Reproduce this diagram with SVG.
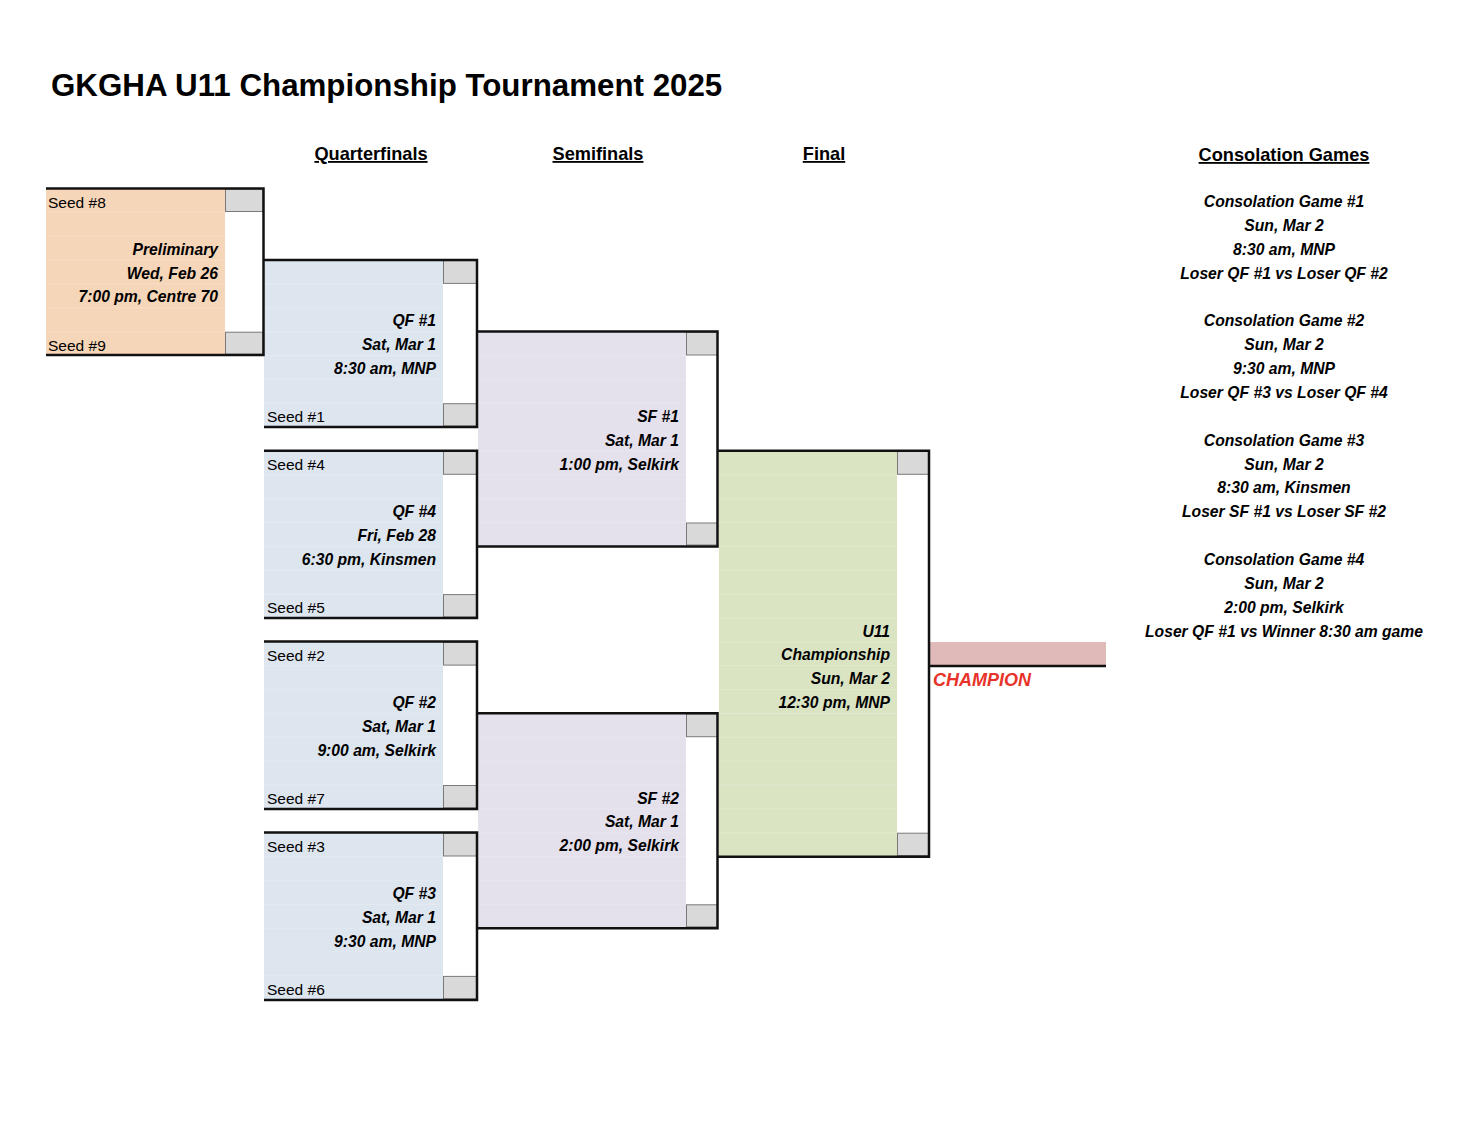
<svg xmlns="http://www.w3.org/2000/svg" width="1474" height="1138" viewBox="0 0 1474 1138">
<style>
text{font-family:"Liberation Sans",Arial,Helvetica,sans-serif;fill:#000}
.title{font-size:31.3px;font-weight:bold}
.hdr{font-size:18.2px;font-weight:bold;text-decoration:underline;text-anchor:middle}
.seed{font-size:15.5px}
.bi{font-size:15.7px;font-weight:bold;font-style:italic}
.r{text-anchor:end}
.c{text-anchor:middle}
.champ{font-size:18px;font-weight:bold;font-style:italic;fill:#E8332A}
.gray{fill:#D9D9D9;stroke:#7a7a7a;stroke-width:1}
.peach{fill:#F6D6B9}
.blue{fill:#DDE5EF}
.lav{fill:#E4E0EC}
.green{fill:#DAE4C3}
.grid{fill:url(#rows)}
.br{fill:none;stroke:#111;stroke-width:2.5;stroke-linejoin:miter}
</style>
<defs>
<pattern id="rows" patternUnits="userSpaceOnUse" x="0" y="188" width="20" height="23.86">
<rect x="0" y="0" width="20" height="1" fill="#ffffff" fill-opacity="0.18"/>
</pattern>
</defs>
<rect width="1474" height="1138" fill="#ffffff"/>
<g id="title">
<text class="title" x="51" y="96">GKGHA U11 Championship Tournament 2025</text>
</g>
<g id="headers">
<text class="hdr" x="371" y="160">Quarterfinals</text>
<text class="hdr" x="598" y="160">Semifinals</text>
<text class="hdr" x="824" y="160">Final</text>
<text class="hdr" x="1284" y="161">Consolation Games</text>
</g>
<g id="prelim">
<rect class="peach" x="46" y="188" width="179" height="167"/>
<rect class="grid" x="46" y="190" width="179" height="164"/>
<rect class="gray" x="225.5" y="189" width="37.5" height="22.5"/>
<rect class="gray" x="225.5" y="332.2" width="37.5" height="22"/>
<text class="seed" x="48" y="207.5">Seed #8</text>
<text class="bi r" x="218" y="254.7">Preliminary</text>
<text class="bi r" x="218" y="278.6">Wed, Feb 26</text>
<text class="bi r" x="218" y="302.4">7:00 pm, Centre 70</text>
<text class="seed" x="48" y="350.7">Seed #9</text>
</g>
<g id="qf1">
<rect class="blue" x="264" y="260" width="179" height="167"/>
<rect class="grid" x="264" y="262" width="179" height="164"/>
<rect class="gray" x="443.5" y="260.6" width="33" height="22.8"/>
<rect class="gray" x="443.5" y="403.7" width="33" height="22.3"/>
<text class="bi r" x="436" y="326.3">QF #1</text>
<text class="bi r" x="436" y="350.2">Sat, Mar 1</text>
<text class="bi r" x="436" y="374">8:30 am, MNP</text>
<text class="seed" x="267" y="422.2">Seed #1</text>
</g>
<g id="qf4">
<rect class="blue" x="264" y="450.5" width="179" height="167.5"/>
<rect class="grid" x="264" y="452.5" width="179" height="164"/>
<rect class="gray" x="443.5" y="451.5" width="33" height="22.8"/>
<rect class="gray" x="443.5" y="594.6" width="33" height="22.4"/>
<text class="seed" x="267" y="470">Seed #4</text>
<text class="bi r" x="436" y="517.2">QF #4</text>
<text class="bi r" x="436" y="541">Fri, Feb 28</text>
<text class="bi r" x="436" y="564.9">6:30 pm, Kinsmen</text>
<text class="seed" x="267" y="613.1">Seed #5</text>
</g>
<g id="qf2">
<rect class="blue" x="264" y="641.3" width="179" height="167.5"/>
<rect class="grid" x="264" y="643.3" width="179" height="164"/>
<rect class="gray" x="443.5" y="642.3" width="33" height="22.8"/>
<rect class="gray" x="443.5" y="785.5" width="33" height="22.4"/>
<text class="seed" x="267" y="660.8">Seed #2</text>
<text class="bi r" x="436" y="708.1">QF #2</text>
<text class="bi r" x="436" y="731.9">Sat, Mar 1</text>
<text class="bi r" x="436" y="755.8">9:00 am, Selkirk</text>
<text class="seed" x="267" y="804">Seed #7</text>
</g>
<g id="qf3">
<rect class="blue" x="264" y="832.2" width="179" height="167.5"/>
<rect class="grid" x="264" y="834.2" width="179" height="164"/>
<rect class="gray" x="443.5" y="833.2" width="33" height="22.8"/>
<rect class="gray" x="443.5" y="976.4" width="33" height="22.4"/>
<text class="seed" x="267" y="851.7">Seed #3</text>
<text class="bi r" x="436" y="898.9">QF #3</text>
<text class="bi r" x="436" y="922.8">Sat, Mar 1</text>
<text class="bi r" x="436" y="946.7">9:30 am, MNP</text>
<text class="seed" x="267" y="994.9">Seed #6</text>
</g>
<g id="sf1">
<rect class="lav" x="478" y="331.2" width="208" height="214.8"/>
<rect class="grid" x="478" y="333.2" width="208" height="211"/>
<rect class="gray" x="686.5" y="332.2" width="31" height="22.8"/>
<rect class="gray" x="686.5" y="523" width="31" height="22"/>
<text class="bi r" x="679" y="421.7">SF #1</text>
<text class="bi r" x="679" y="445.6">Sat, Mar 1</text>
<text class="bi r" x="679" y="469.5">1:00 pm, Selkirk</text>
</g>
<g id="sf2">
<rect class="lav" x="478" y="712.9" width="208" height="214.8"/>
<rect class="grid" x="478" y="714.9" width="208" height="211"/>
<rect class="gray" x="686.5" y="713.9" width="31" height="22.8"/>
<rect class="gray" x="686.5" y="904.8" width="31" height="22"/>
<text class="bi r" x="679" y="803.5">SF #2</text>
<text class="bi r" x="679" y="827.4">Sat, Mar 1</text>
<text class="bi r" x="679" y="851.2">2:00 pm, Selkirk</text>
</g>
<g id="final">
<rect class="green" x="719" y="450.5" width="178" height="405.6"/>
<rect class="grid" x="719" y="452.5" width="178" height="402"/>
<rect class="gray" x="897.5" y="451.5" width="31" height="22.8"/>
<rect class="gray" x="897.5" y="833.2" width="31" height="22.3"/>
<text class="bi r" x="890" y="636.5">U11</text>
<text class="bi r" x="890" y="660.3">Championship</text>
<text class="bi r" x="890" y="684.2">Sun, Mar 2</text>
<text class="bi r" x="890" y="708.1">12:30 pm, MNP</text>
</g>
<g id="champion">
<rect x="930" y="642" width="176" height="23" fill="#E0B9B9"/>
<text class="champ" x="933" y="686">CHAMPION</text>
</g>
<g id="connectors">
<path class="br" d="M46 188.5 H263.5 V355 H46"/>
<path class="br" d="M264 260 H477 V427 H264"/>
<path class="br" d="M264 450.8 H477 V618 H264"/>
<path class="br" d="M264 641.6 H477 V809 H264"/>
<path class="br" d="M264 832.5 H477 V1000 H264"/>
<path class="br" d="M477 331.5 H717.5 V546.5 H477"/>
<path class="br" d="M477 713.2 H717.5 V928.3 H477"/>
<path class="br" d="M718 450.8 H929 V856.8 H718"/>
<path class="br" d="M929 666 H1106"/>
</g>
<g id="consolation">
<text class="bi c" x="1284" y="207">Consolation Game #1</text>
<text class="bi c" x="1284" y="230.9">Sun, Mar 2</text>
<text class="bi c" x="1284" y="254.7">8:30 am, MNP</text>
<text class="bi c" x="1284" y="278.6">Loser QF #1 vs Loser QF #2</text>
<text class="bi c" x="1284" y="326.3">Consolation Game #2</text>
<text class="bi c" x="1284" y="350.2">Sun, Mar 2</text>
<text class="bi c" x="1284" y="374">9:30 am, MNP</text>
<text class="bi c" x="1284" y="397.9">Loser QF #3 vs Loser QF #4</text>
<text class="bi c" x="1284" y="445.6">Consolation Game #3</text>
<text class="bi c" x="1284" y="469.5">Sun, Mar 2</text>
<text class="bi c" x="1284" y="493.3">8:30 am, Kinsmen</text>
<text class="bi c" x="1284" y="517.2">Loser SF #1 vs Loser SF #2</text>
<text class="bi c" x="1284" y="564.9">Consolation Game #4</text>
<text class="bi c" x="1284" y="588.8">Sun, Mar 2</text>
<text class="bi c" x="1284" y="612.6">2:00 pm, Selkirk</text>
<text class="bi c" x="1284" y="636.5">Loser QF #1 vs Winner 8:30 am game</text>
</g>
</svg>
